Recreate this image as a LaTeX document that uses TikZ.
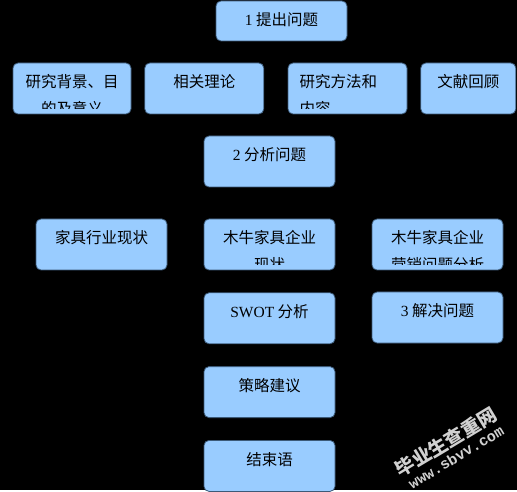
\documentclass[tikz,border=0pt]{standalone}
\usepackage{fontspec}
\setmainfont{Liberation Serif}
\newfontfamily\cjk{Noto Sans CJK SC}
\newfontfamily\wmmono{Liberation Mono}
\usetikzlibrary{
    positioning,
    calc,
}
\definecolor{boxblue}{RGB}{153,204,255}
\definecolor{boxline}{RGB}{60,90,120}

% text of a box, cut off at the box's lower margin
\newcommand{\boxtext}[3][]{
    \begin{scope}
    \clip ([yshift=6pt]#2.south west) rectangle (#2.north east);
    \node[lbl, #1] (#2-text) at ([yshift=-12pt]#2.north) {#3};
    \end{scope}
}

\begin{document}
\begin{tikzpicture}[
    x=1pt, y=1pt,
    node distance= 22pt and 13pt,
    lbl/.style={anchor=north, inner sep=0pt, align=center, text=black,
                font=\cjk\fontsize{15.5}{27}\selectfont},
    box/.style={draw=boxline, line width=0.8pt, rounded corners=5pt, fill=boxblue,
                minimum width=131pt, minimum height=51pt, inner sep=0pt},
    wmark/.style={rotate=31, text=white!82!black, inner sep=0pt},
]

\fill[black] (0,0) rectangle (517,-490);

% 1
\node[box, minimum height=40pt] at (281.5,-21) (ask) {};
\node[box, minimum width=118pt] at (72,-88.5) (background) {};
\node[box, minimum width=119pt] [right=of background] (theory) {};
\node[box, minimum width=119pt] at (347.5,-88.5) (method) {};
\node[box, minimum width=95pt] [right=of method] (review) {};

% 2
\node[box] at (269.5,-161.5) (analyse) {};
\node[box] at (101.5,-244.5) (industry) {};
\node[box] at (269.5,-244.5) (firm) {};
\node[box] at (437.5,-244.5) (marketing) {};
\node[box] [below=of firm] (swot) {};

% 3
\node[box] at (437.5,-317.5) (solve) {};
\node[box] [below=of swot] (advice) {};
\node[box] [below=of advice] (ending) {};

\boxtext{ask}{{\rmfamily 1} 提出问题}
\boxtext{background}{研究背景、目\\的及意义}
\boxtext{theory}{相关理论}
\boxtext[align=left, text width=96pt]{method}{研究方法和\\内容}
\boxtext{review}{文献回顾}
\boxtext{analyse}{{\rmfamily 2} 分析问题}
\boxtext{industry}{家具行业现状}
\boxtext{firm}{木牛家具企业\\现状}
\boxtext{marketing}{木牛家具企业\\营销问题分析}
\boxtext{swot}{{\rmfamily SWOT} 分析}
\boxtext{solve}{{\rmfamily 3} 解决问题}
\boxtext{advice}{策略建议}
\boxtext{ending}{结束语}

\node[wmark, font=\cjk\bfseries\fontsize{19}{19}\selectfont] at (446,-442) (wmcn) {毕业生查重网};
\node[wmark, font=\wmmono\bfseries\fontsize{15}{15}\selectfont] at (456,-457) (wmurl) {www.sbvv.com};

\end{tikzpicture}
\end{document}
